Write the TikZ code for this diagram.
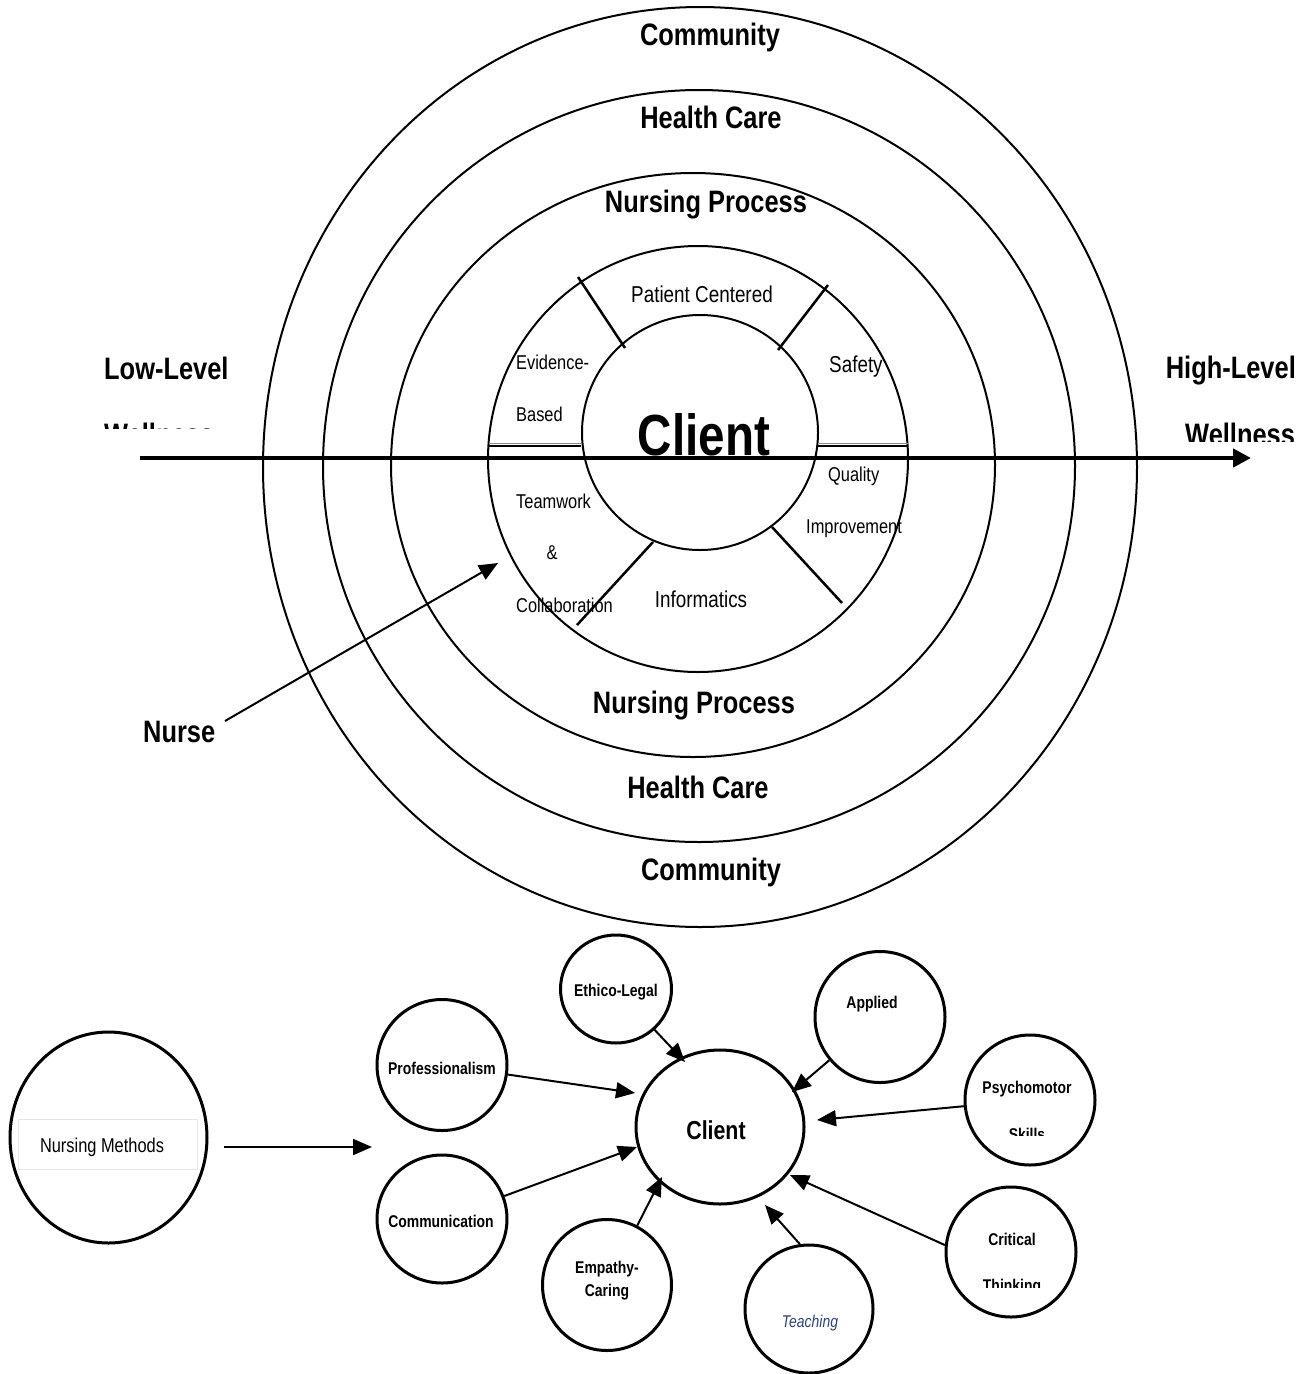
\documentclass[tikz,border=0pt]{standalone}
\usepackage{fontspec}
\setmainfont[FakeStretch=0.82]{Liberation Sans}
\usetikzlibrary{arrows.meta,shapes.geometric}
\definecolor{teachblue}{RGB}{47,68,120}
\tikzset{
  ringlbl/.style={inner sep=0pt, anchor=base, font=\fontsize{31}{36}\selectfont\bfseries},
  sidelbl/.style={inner sep=0pt, anchor=base west, font=\fontsize{31}{36}\selectfont\bfseries},
  seglbl/.style={inner sep=0pt, anchor=base west, font=\fontsize{20}{24}\selectfont},
  segbig/.style={inner sep=0pt, anchor=base, font=\fontsize{23}{27}\selectfont},
  ring/.style={line width=2pt},
  spoke/.style={line width=2.5pt},
  divider/.style={line width=2pt},
  bub/.style={draw, line width=3pt, ellipse, inner sep=0pt},
  bublbl/.style={inner sep=0pt, anchor=base, font=\fontsize{17}{20}\selectfont\bfseries},
  arr/.style={line width=2pt, -{Triangle[length=19pt,width=16pt]}},
  axisarr/.style={line width=4.5pt, -{Triangle[length=18pt,width=18pt]}},
}
\begin{document}
\begin{tikzpicture}[x=1pt,y=-1pt]
\useasboundingbox[fill=white] (0,0) rectangle (1307,1374);

% ---------- concentric model ----------
\draw[ring] (700,467) ellipse [x radius=437pt, y radius=460pt];
\draw[ring] (699,466) ellipse [x radius=376pt, y radius=376pt];
\draw[ring] (693,465) ellipse [x radius=302pt, y radius=292pt];
\draw[ring] (698,459) ellipse [x radius=210pt, y radius=213pt];
\draw[ring] (700,432.5) ellipse [x radius=118pt, y radius=117.5pt];

% spokes of the inner ring
\coordinate (s1a) at (578,277); \coordinate (s1b) at (625,348);
\coordinate (s2a) at (828,285); \coordinate (s2b) at (778,350);
\coordinate (s3a) at (653,542); \coordinate (s3b) at (577,625);
\coordinate (s4a) at (772,527); \coordinate (s4b) at (842,603);
\draw[spoke] (s1a) -- (s1b);
\draw[spoke] (s2a) -- (s2b);
\draw[spoke] (s3a) -- (s3b);
\draw[spoke] (s4a) -- (s4b);

% dividers
\coordinate (d1a) at (489,446); \coordinate (d1b) at (581,446);
\coordinate (d2a) at (818,446); \coordinate (d2b) at (908,446);
\draw[black!45, line width=0.8pt] (489,443.5) -- (581,443.5);
\draw[black!45, line width=0.8pt] (818,443.5) -- (908,443.5);
\draw[divider] (d1a) -- (d1b);
\draw[divider] (d2a) -- (d2b);

% ring labels
\node[ringlbl] (comT) at (710,45) {Community};
\node[ringlbl] (hcT) at (711,128) {Health Care};
\node[ringlbl] (npT) at (706,212) {Nursing Process};
\node[ringlbl] (npB) at (694,713) {Nursing Process};
\node[ringlbl] (hcB) at (698,798) {Health Care};
\node[ringlbl] (comB) at (711,880) {Community};

% segment labels
\node[segbig] (pc) at (702,302) {Patient Centered};
\node[seglbl] (eb1) at (516,369) {Evidence-};
\node[seglbl] (eb2) at (516,421) {Based};
\node[inner sep=0pt, anchor=base west, font=\fontsize{23}{27}\selectfont] (saf) at (829,372) {Safety};
\node[seglbl] (qi1) at (828,481) {Quality};
\node[seglbl] (qi2) at (806,533) {Improvement};
\node[seglbl] (tc1) at (516,508) {Teamwork};
\node[inner sep=0pt, anchor=base, font=\fontsize{20}{24}\selectfont] (tc2) at (552,559) {\&};
\node[seglbl] (tc3) at (516,612) {Collaboration};
\node[segbig] (inf) at (701,607) {Informatics};

% big Client
\node[inner sep=0pt, anchor=base, font=\fontsize{58}{64}\selectfont\bfseries] (clientT) at (704,455) {Client};

% axis
\coordinate (axL) at (140,458);
\coordinate (axR) at (1251,458);
\draw[axisarr] (axL) -- (axR);

% side labels
\node[sidelbl] (low) at (104,379) {Low-Level};
\begin{scope}
  \clip (90,405) rectangle (260,428);
  \node[sidelbl] (lowW) at (104,445) {Wellness};
\end{scope}
\node[inner sep=0pt, anchor=base east, font=\fontsize{31}{36}\selectfont\bfseries] (high) at (1296,378) {High-Level};
\begin{scope}
  \clip (1170,405) rectangle (1307,441);
  \node[sidelbl] (highW) at (1185,445) {Wellness};
\end{scope}

% Nurse
\node[sidelbl] (nurse) at (143,742) {Nurse};
\coordinate (nurseTail) at (225,721);
\coordinate (nurseTip) at (498,563);
\draw[arr] (nurseTail) -- (nurseTip);

% ---------- nursing methods ----------
\node[bub, minimum width=197pt, minimum height=211pt] (nm) at (108.5,1137.5) {};
\draw[black!10, line width=0.8pt] (18,1119) rectangle (197,1169);
\node[inner sep=0pt, anchor=base, font=\fontsize{20}{24}\selectfont] (nmlbl) at (102,1152) {Nursing Methods};
\coordinate (nmTail) at (224,1147);
\coordinate (nmTip) at (372,1147);
\draw[arr] (nmTail) -- (nmTip);

% bubbles
\node[bub, minimum width=168pt, minimum height=154pt] (cl) at (720,1127) {};
\node[inner sep=0pt, anchor=base, font=\fontsize{26}{30}\selectfont\bfseries] (cllbl) at (716,1139) {Client};

\node[bub, minimum width=111pt, minimum height=108pt] (eth) at (616,989) {};
\node[bublbl] at (616,996) {Ethico-Legal};

\node[bub, minimum width=130pt, minimum height=131pt] (app) at (880,1017) {};
\node[bublbl] at (872,1008) {Applied};

\node[bub, minimum width=130pt, minimum height=131pt] (prof) at (442,1065) {};
\node[bublbl] at (442,1074) {Professionalism};

\node[bub, minimum width=130pt, minimum height=130pt] (psy) at (1030,1100) {};
\node[bublbl] at (1027,1093) {Psychomotor};
\begin{scope}
  \clip (960,1120) rectangle (1100,1135);
  \node[bublbl] at (1027,1140) {Skills};
\end{scope}

\node[bub, minimum width=130pt, minimum height=128pt] (com) at (442,1219) {};
\node[bublbl] at (441,1227) {Communication};

\node[bub, minimum width=129pt, minimum height=131pt] (emp) at (607,1285) {};
\node[bublbl] at (607,1273) {Empathy-};
\node[bublbl] at (607,1296) {Caring};

\node[bub, minimum width=128pt, minimum height=128pt] (tea) at (809,1309) {};
\node[inner sep=0pt, anchor=base, font=\fontsize{17}{20}\selectfont\itshape, text=teachblue] at (810,1327) {Teaching};

\node[bub, minimum width=130pt, minimum height=130pt] (cri) at (1011,1252) {};
\node[bublbl] at (1012,1245) {Critical};
\begin{scope}
  \clip (940,1270) rectangle (1090,1287);
  \node[bublbl] at (1012,1291) {Thinking};
\end{scope}

% arrows into Client
\coordinate (tEth) at (685,1062);
\coordinate (tProf) at (635,1093);
\coordinate (tApp) at (792,1092);
\coordinate (tPsy) at (817,1120);
\coordinate (tCom) at (637,1147);
\coordinate (tEmp) at (662,1177);
\coordinate (tTea) at (765,1205);
\coordinate (tCri) at (790,1175);
\draw[arr] (eth) -- (tEth);
\draw[arr] (prof) -- (tProf);
\draw[arr] (app) -- (tApp);
\draw[arr] (psy) -- (tPsy);
\draw[arr] (com) -- (tCom);
\draw[arr] (emp) -- (tEmp);
\draw[arr] (tea.98) -- (tTea);
\draw[arr] (cri.174) -- (tCri);
\end{tikzpicture}
\end{document}
